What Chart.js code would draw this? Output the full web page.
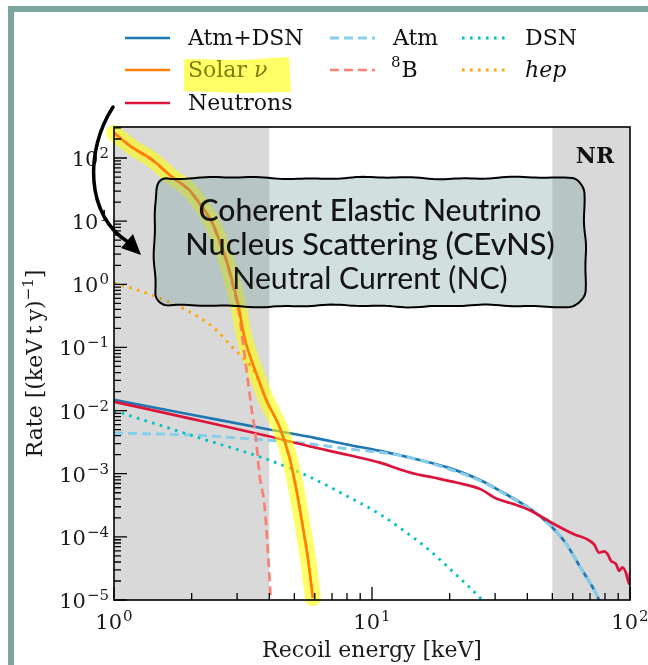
<!DOCTYPE html>
<html>
<head>
<meta charset="utf-8">
<script src="https://cdn.jsdelivr.net/npm/chart.js@4.4.1/dist/chart.umd.min.js"></script>
<style>
    html, body { margin: 0; padding: 0; background: #fff; }
    canvas { display: block; }
</style>
</head>
<body>
<canvas id="chart" width="648" height="665"></canvas>
<script>
// recoil energy in keV, rate in (keV t y)^-1
const solarEnergy = [1.0, 1.17, 1.41, 1.68, 1.96, 2.2, 2.41, 2.56, 2.73, 2.89, 3.06, 3.15, 3.26, 3.4, 3.56, 3.9, 4.39, 4.79, 5.1, 5.4, 5.64, 5.9];
const solarRate = [250, 150, 93, 50, 31, 16.6, 9.3, 5.0, 2.4, 1.04, 0.4, 0.2, 0.11, 0.065, 0.039, 0.0145, 0.0054, 0.0018, 5.4e-4, 1.4e-4, 4.7e-5, 1.07e-5];

const boronEnergy = [1.0, 1.17, 1.41, 1.68, 1.96, 2.2, 2.41, 2.56, 2.73, 2.89, 3.06, 3.15, 3.26, 3.41, 3.56, 3.66, 3.84, 3.94, 4.05];
const boronRate = [249, 149, 92, 49.5, 30.6, 16.3, 9.1, 4.8, 2.25, 0.94, 0.33, 0.13, 0.045, 0.011, 0.0033, 1.0e-3, 2.9e-4, 6.8e-5, 1.0e-5];

const hepEnergy = [1.0, 1.17, 1.41, 1.74, 2.14, 2.49, 2.88, 3.15, 3.4, 3.56, 3.9, 4.39, 4.79, 5.1, 5.4, 5.64, 5.9];
const hepRate = [1.05, 0.87, 0.67, 0.47, 0.30, 0.19, 0.1, 0.07, 0.05, 0.036, 0.0142, 0.0054, 0.0018, 5.4e-4, 1.4e-4, 4.7e-5, 1.07e-5];

const atmDsnEnergy = [1, 2, 3.9, 6, 8, 10.74, 14.5, 19.6, 26.3, 32.3, 41.2, 48, 55.7, 64.5, 72.6, 75.9, 80];
const atmDsnRate = [0.0148, 0.0086, 0.0051, 0.0037, 0.0029, 0.0023, 0.00174, 0.00126, 7.9e-4, 5.0e-4, 2.75e-4, 1.66e-4, 8.5e-5, 3.2e-5, 1.45e-5, 1.0e-5, 6.2e-6];

const atmEnergy = [1, 2, 3.56, 5.25, 8.2, 12.85, 19.6, 26.3, 32.3, 41.2, 48, 55.7, 64.5, 72.6, 75.9, 80];
const atmRate = [0.0044, 0.0041, 0.0035, 0.0031, 0.00245, 0.00195, 0.00121, 7.7e-4, 4.9e-4, 2.72e-4, 1.65e-4, 8.5e-5, 3.2e-5, 1.45e-5, 1.0e-5, 6.2e-6];

const dsnEnergy = [1, 2.14, 3.9, 5.6, 8.2, 10.7, 12.8, 16.8, 21, 26.3, 28];
const dsnRate = [0.0100, 0.0037, 0.0017, 9.3e-4, 4.2e-4, 2.3e-4, 1.4e-4, 6e-5, 2.6e-5, 1.07e-5, 8e-6];

const neutronEnergy = [1, 2, 3.9, 6, 8, 10.74, 12.85, 14.5, 17.3, 21.4, 26.3, 30.5, 35.5, 41.2, 50.7, 60.7, 68.4, 72.6, 75.9, 79.5, 81.9, 84.3, 88.3, 90.8, 93.6, 96.4, 99.4, 100];
const neutronRate = [0.0138, 0.0074, 0.004, 0.0026, 0.002, 1.5e-3, 1.17e-3, 1.01e-3, 8.7e-4, 7.2e-4, 5.7e-4, 4.0e-4, 3.3e-4, 2.6e-4, 1.6e-4, 1.1e-4, 9.1e-5, 7.6e-5, 5.6e-5, 5.9e-5, 5.3e-5, 4.2e-5, 3.7e-5, 2.9e-5, 3.3e-5, 2.7e-5, 1.8e-5, 2.7e-5];

const xDecades = [0, 1, 2];
const yDecades = [-5, -4, -3, -2, -1, 0, 1, 2];
const shadedBands = [[1, 4], [50, 100]];
const boxLines = ['Coherent Elastic Neutrino', 'Nucleus Scattering (CEvNS)', 'Neutral Current (NC)'];

const SERIF = '"DejaVu Serif", serif';
const DOTS = [2.6, 5.4];
const DASHES = [9, 5];

function toPoints(xs, ys) {
    return xs.map((x, i) => ({ x: x, y: ys[i] }));
}

function lineSet(label, xs, ys, color, width, dash, order) {
    return {
        label: label,
        data: toPoints(xs, ys),
        borderColor: color,
        borderWidth: width,
        borderDash: dash,
        borderCapStyle: 'butt',
        pointRadius: 0,
        fill: false,
        cubicInterpolationMode: 'monotone',
        clip: 0,
        order: order
    };
}

const datasets = [
    lineSet('Atm+DSN', atmDsnEnergy, atmDsnRate, '#1f77b4', 2.7, [], 9),
    lineSet('Atm', atmEnergy, atmRate, '#87ceeb', 3, DASHES, 8),
    lineSet('DSN', dsnEnergy, dsnRate, '#00c2c2', 2.8, DOTS, 7),
    lineSet('Neutrons', neutronEnergy, neutronRate, '#dc143c', 2.7, [], 6),
    Object.assign(lineSet('highlight', solarEnergy, solarRate, 'rgba(255,255,0,0.58)', 16, [], 5), { borderCapStyle: 'round', clip: 8 }),
    lineSet('8B', boronEnergy, boronRate, '#fa8072', 2.7, DASHES, 4),
    lineSet('hep', hepEnergy, hepRate, '#ffa500', 2.8, DOTS, 3),
    lineSet('Solar ν', solarEnergy, solarRate, '#ff8000', 2.7, [], 2)
];

function drawPower(ctx, exp, x, y, align) {
    const sup = exp < 0 ? '\u2212' + Math.abs(exp) : String(exp);
    ctx.font = '21px ' + SERIF;
    const wb = ctx.measureText('10').width;
    ctx.font = '15px ' + SERIF;
    const ws = ctx.measureText(sup).width;
    const total = wb + ws + 1;
    const left = align === 'right' ? x - total : x - total / 2;
    ctx.textAlign = 'left';
    ctx.textBaseline = 'alphabetic';
    ctx.font = '21px ' + SERIF;
    ctx.fillText('10', left, y);
    ctx.font = '15px ' + SERIF;
    ctx.fillText(sup, left + wb + 1, y - 8);
}

function drawAxes(chart) {
    const ctx = chart.ctx;
    const area = chart.chartArea;
    const xs = chart.scales.x;
    const ys = chart.scales.y;
    ctx.save();
    ctx.strokeStyle = '#000';
    ctx.lineWidth = 1.6;
    ctx.strokeRect(area.left, area.top, area.right - area.left, area.bottom - area.top);

    ctx.lineWidth = 1.3;
    ctx.beginPath();
    xDecades.forEach(d => {
        for (let k = 1; k < 10; k++) {
            const v = k * Math.pow(10, d);
            if (v < xs.min || v > xs.max) continue;
            const px = xs.getPixelForValue(v);
            const len = k === 1 ? 13 : 7;
            ctx.moveTo(px, area.bottom);
            ctx.lineTo(px, area.bottom - len);
        }
    });
    yDecades.forEach(d => {
        for (let k = 1; k < 10; k++) {
            const v = k * Math.pow(10, d);
            if (v < ys.min || v > ys.max) continue;
            const py = ys.getPixelForValue(v);
            const len = k === 1 ? 13 : 7;
            ctx.moveTo(area.left, py);
            ctx.lineTo(area.left + len, py);
        }
    });
    ctx.stroke();

    ctx.fillStyle = '#1a1a1a';
    xDecades.forEach(d => {
        drawPower(ctx, d, xs.getPixelForValue(Math.pow(10, d)), area.bottom + 29, 'center');
    });
    yDecades.forEach(d => {
        drawPower(ctx, d, area.left - 5, ys.getPixelForValue(Math.pow(10, d)) + 8, 'right');
    });

    ctx.font = '22px ' + SERIF;
    ctx.textAlign = 'center';
    ctx.fillText('Recoil energy [keV]', (area.left + area.right) / 2, 657);

    // rotated y title with superscript
    ctx.translate(42, (area.top + area.bottom) / 2);
    ctx.rotate(-Math.PI / 2);
    const main = 'Rate [(keV\u2009t\u2009y)';
    ctx.font = '22px ' + SERIF;
    const wm = ctx.measureText(main).width;
    const wc = ctx.measureText(']').width;
    ctx.font = '15px ' + SERIF;
    const we = ctx.measureText('\u22121').width;
    const left = -(wm + we + wc) / 2;
    ctx.textAlign = 'left';
    ctx.font = '22px ' + SERIF;
    ctx.fillText(main, left, 0);
    ctx.font = '15px ' + SERIF;
    ctx.fillText('\u22121', left + wm, -9);
    ctx.font = '22px ' + SERIF;
    ctx.fillText(']', left + wm + we, 0);
    ctx.restore();

    ctx.save();
    ctx.fillStyle = '#111';
    ctx.font = 'bold 22px ' + SERIF;
    ctx.textAlign = 'center';
    ctx.fillText('NR', 595, 163);
    ctx.restore();
}

function wobblyBox(ctx, x0, y0, x1, y1, r) {
    const pts = [];
    const corners = [
        [x1 - r, y0 + r, -Math.PI / 2],
        [x1 - r, y1 - r, 0],
        [x0 + r, y1 - r, Math.PI / 2],
        [x0 + r, y0 + r, Math.PI]
    ];
    const starts = [[x0 + r, y0], [x1, y0 + r], [x1 - r, y1], [x0, y1 - r]];
    for (let s = 0; s < 4; s++) {
        const a = starts[s];
        const c = corners[s];
        const bx = c[0] + r * Math.cos(c[2]);
        const by = c[1] + r * Math.sin(c[2]);
        const n = Math.ceil(Math.hypot(bx - a[0], by - a[1]) / 4);
        for (let i = 0; i < n; i++) pts.push([a[0] + (bx - a[0]) * i / n, a[1] + (by - a[1]) * i / n]);
        for (let i = 0; i < 8; i++) {
            const t = c[2] + (Math.PI / 2) * i / 8;
            pts.push([c[0] + r * Math.cos(t), c[1] + r * Math.sin(t)]);
        }
    }
    ctx.beginPath();
    pts.forEach((p, i) => {
        const dx = 0.9 * Math.sin(i * 0.21) + 0.5 * Math.sin(i * 0.57 + 1);
        const dy = 0.9 * Math.sin(i * 0.17 + 2) + 0.5 * Math.sin(i * 0.49);
        if (i === 0) ctx.moveTo(p[0] + dx, p[1] + dy);
        else ctx.lineTo(p[0] + dx, p[1] + dy);
    });
    ctx.closePath();
}

function fitFont(ctx, text, width, weight, family) {
    ctx.font = weight + ' 20px ' + family;
    return 20 * width / ctx.measureText(text).width;
}

function drawTextBox(ctx) {
    ctx.save();
    wobblyBox(ctx, 155, 178, 585, 306, 14);
    ctx.fillStyle = 'rgba(116,157,157,0.32)';
    ctx.fill();
    ctx.strokeStyle = '#000';
    ctx.lineWidth = 2;
    ctx.lineJoin = 'round';
    ctx.stroke();

    const family = 'Lato, "Noto Sans", sans-serif';
    const widths = [343, 370, 275];
    const centers = [211, 245, 279];
    const weights = ['500', '500', '400'];
    ctx.fillStyle = '#141414';
    ctx.textAlign = 'center';
    ctx.textBaseline = 'middle';
    boxLines.forEach((line, i) => {
        const size = fitFont(ctx, line, widths[i], weights[i], family);
        ctx.font = weights[i] + ' ' + size.toFixed(1) + 'px ' + family;
        ctx.fillText(line, 370, centers[i]);
    });
    ctx.restore();
}

function drawLegend(ctx) {
    const cols = [125, 330, 462];
    const rows = [38, 70, 103];
    const items = [
        [0, 0, 0, 'Atm+DSN'], [1, 0, 1, 'Atm'], [2, 0, 2, 'DSN'],
        [0, 1, 7, 'Solar ν'], [1, 1, 5, '8B'], [2, 1, 6, 'hep'],
        [0, 2, 3, 'Neutrons']
    ];
    ctx.save();
    // highlighter mark behind "Solar ν"
    ctx.fillStyle = 'rgba(255,255,0,0.6)';
    ctx.beginPath();
    ctx.moveTo(184, 59);
    ctx.lineTo(240, 60);
    ctx.lineTo(289, 57);
    ctx.lineTo(291, 92);
    ctx.lineTo(240, 93);
    ctx.lineTo(184, 91);
    ctx.closePath();
    ctx.fill();

    items.forEach(item => {
        const ds = datasets[item[2]];
        const x = cols[item[0]];
        const y = rows[item[1]];
        ctx.strokeStyle = ds.borderColor;
        ctx.lineWidth = ds.borderWidth;
        ctx.lineCap = 'butt';
        ctx.setLineDash(ds.borderDash);
        ctx.beginPath();
        ctx.moveTo(x, y);
        ctx.lineTo(x + 45, y);
        ctx.stroke();
        ctx.setLineDash([]);

        const tx = x + 63;
        ctx.textAlign = 'left';
        ctx.textBaseline = 'middle';
        ctx.fillStyle = item[3] === 'Solar ν' ? '#7d7d0c' : '#111';
        if (item[3] === '8B') {
            ctx.font = '15px ' + SERIF;
            ctx.fillText('8', tx - 2, y - 7);
            const w = ctx.measureText('8').width;
            ctx.font = '22px ' + SERIF;
            ctx.fillText('B', tx - 1 + w, y + 1);
        } else if (item[3] === 'hep') {
            ctx.font = 'italic 22px ' + SERIF;
            ctx.fillText('hep', tx, y + 1);
        } else if (item[3] === 'Solar ν') {
            ctx.font = '22px ' + SERIF;
            ctx.fillText('Solar ', tx, y + 1);
            const w = ctx.measureText('Solar ').width;
            ctx.font = 'italic 22px ' + SERIF;
            ctx.fillText('ν', tx + w, y + 1);
        } else {
            ctx.font = '22px ' + SERIF;
            ctx.fillText(item[3], tx, y + 1);
        }
    });
    ctx.restore();
}

function drawArrow(ctx) {
    ctx.save();
    ctx.strokeStyle = '#000';
    ctx.fillStyle = '#000';
    ctx.lineWidth = 3.5;
    ctx.lineCap = 'round';
    ctx.beginPath();
    ctx.moveTo(113, 107);
    ctx.bezierCurveTo(85, 150, 85, 215, 128, 242);
    ctx.stroke();
    ctx.beginPath();
    ctx.moveTo(141, 255);
    ctx.lineTo(121, 248);
    ctx.lineTo(133, 234);
    ctx.closePath();
    ctx.fill();
    ctx.restore();
}

function drawFrame(ctx) {
    ctx.save();
    ctx.strokeStyle = '#7da69f';
    ctx.lineWidth = 6;
    ctx.strokeRect(11, 9, 720, 720);
    ctx.restore();
}

const decorPlugin = {
    id: 'decor',
    beforeDatasetsDraw(chart) {
        const ctx = chart.ctx;
        const area = chart.chartArea;
        const xs = chart.scales.x;
        ctx.save();
        ctx.fillStyle = '#d9d9d9';
        shadedBands.forEach(band => {
            const x0 = xs.getPixelForValue(band[0]);
            const x1 = xs.getPixelForValue(band[1]);
            ctx.fillRect(x0, area.top, x1 - x0, area.bottom - area.top);
        });
        ctx.restore();
    },
    afterDatasetsDraw(chart) {
        drawTextBox(chart.ctx);
        drawAxes(chart);
        drawLegend(chart.ctx);
        drawArrow(chart.ctx);
        drawFrame(chart.ctx);
    }
};

new Chart(document.getElementById('chart').getContext('2d'), {
    type: 'line',
    data: { datasets: datasets },
    options: {
        responsive: false,
        animation: false,
        events: [],
        layout: { padding: { left: 114, top: 127, right: 18, bottom: 65 } },
        scales: {
            x: { type: 'logarithmic', min: 1, max: 100, display: false },
            y: { type: 'logarithmic', min: 1e-5, max: 310, display: false }
        },
        plugins: {
            legend: { display: false },
            tooltip: { enabled: false }
        }
    },
    plugins: [decorPlugin]
});
</script>
</body>
</html>
